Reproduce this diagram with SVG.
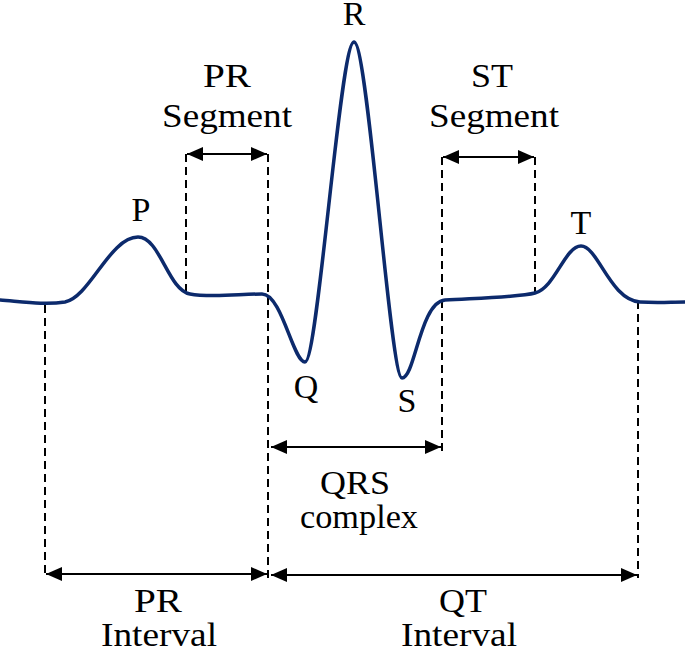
<svg xmlns="http://www.w3.org/2000/svg" width="685" height="654" viewBox="0 0 685 654">
<defs>
<marker id="ah" viewBox="0 0 16 14" refX="16" refY="7" markerWidth="16" markerHeight="14" markerUnits="userSpaceOnUse" orient="auto-start-reverse">
<path d="M0,0 L16,7 L0,14 Z" fill="#000"/>
</marker>
</defs>
<style>
.t{font-family:"Liberation Serif","Times New Roman",serif;font-size:34px;fill:#000;text-anchor:middle}
.d{stroke:#000;stroke-width:2;stroke-dasharray:8,5;fill:none}
.a{stroke:#000;stroke-width:2;fill:none;marker-start:url(#ah);marker-end:url(#ah)}
.ecg{stroke:#0c2a6c;stroke-width:3.5;fill:none;stroke-linejoin:round;stroke-linecap:round}
</style>
<rect width="685" height="654" fill="#fff"/>
<g id="connectors">
<line class="d" x1="45" y1="305" x2="45" y2="578"/>
<line class="d" x1="186" y1="154" x2="186" y2="293"/>
<line class="d" x1="268" y1="154" x2="268" y2="580"/>
<line class="d" x1="442" y1="157" x2="442" y2="456"/>
<line class="d" x1="535" y1="157" x2="535" y2="294"/>
<line class="d" x1="638" y1="301" x2="638" y2="578"/>
<line class="a" x1="187" y1="154" x2="267" y2="154"/>
<line class="a" x1="443" y1="157" x2="534" y2="157"/>
<line class="a" x1="271" y1="447" x2="441" y2="447"/>
<line class="a" x1="46" y1="574" x2="267" y2="574"/>
<line class="a" x1="271" y1="575" x2="637" y2="575"/>
</g>
<g id="ecg-trace">
<path class="ecg" d="M0,300 C25,302 45,305 65,302 C90,297 110,237 138,237 C160,237 168,290 190,294 C210,298 240,294 262,294 C282,294 293,362 305,362 C318,362 340,42 354,42 C368,42 390,378 402,378 C415,378 420,302 445,300 C480,298 520,297 535,293 C555,288 565,246 581,246 C598,246 610,300 640,302 C660,303 670,302 685,302"/>
</g>
<g id="label-R"><text class="t" x="354" y="25">R</text></g>
<g id="label-P"><text class="t" x="141" y="221">P</text></g>
<g id="label-T"><text class="t" x="581" y="234">T</text></g>
<g id="label-Q"><text class="t" x="306" y="398">Q</text></g>
<g id="label-S"><text class="t" x="407" y="412">S</text></g>
<g id="label-pr-segment">
<text class="t" x="227" y="87" textLength="48" lengthAdjust="spacingAndGlyphs">PR</text>
<text class="t" x="227" y="127" textLength="130" lengthAdjust="spacingAndGlyphs">Segment</text>
</g>
<g id="label-st-segment">
<text class="t" x="492" y="87" textLength="42" lengthAdjust="spacingAndGlyphs">ST</text>
<text class="t" x="494" y="127" textLength="130" lengthAdjust="spacingAndGlyphs">Segment</text>
</g>
<g id="label-qrs">
<text class="t" x="355" y="494" textLength="70" lengthAdjust="spacingAndGlyphs">QRS</text>
<text class="t" x="359" y="528" textLength="118" lengthAdjust="spacingAndGlyphs">complex</text>
</g>
<g id="label-pr-interval">
<text class="t" x="158" y="612" textLength="48" lengthAdjust="spacingAndGlyphs">PR</text>
<text class="t" x="159" y="646" textLength="116" lengthAdjust="spacingAndGlyphs">Interval</text>
</g>
<g id="label-qt-interval">
<text class="t" x="463" y="612" textLength="48" lengthAdjust="spacingAndGlyphs">QT</text>
<text class="t" x="459" y="646" textLength="116" lengthAdjust="spacingAndGlyphs">Interval</text>
</g>
</svg>
